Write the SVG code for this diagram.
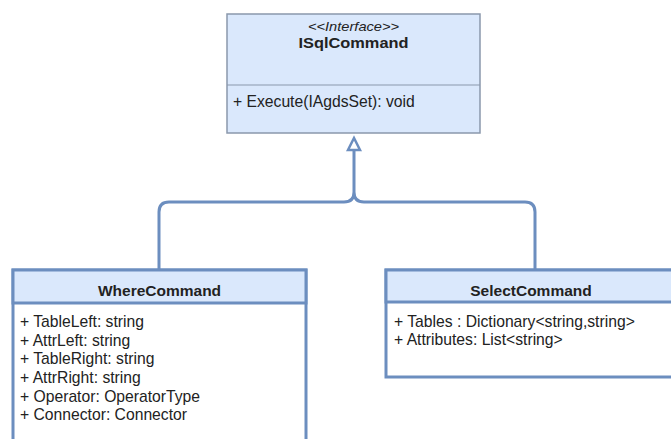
<svg xmlns="http://www.w3.org/2000/svg" width="671" height="439" viewBox="0 0 671 439">
<style>
text{font-family:"Liberation Sans",Arial,sans-serif;fill:#222;font-size:15.7px}
.t{font-weight:bold;font-size:15.5px;text-anchor:middle}
.it{font-weight:bold;font-size:14px;text-anchor:middle}
.st{font-style:italic;font-size:12px;text-anchor:middle}
.hdr{fill:#dae8fc;stroke:#6c8ebf;stroke-width:3}
.body{fill:#fff;stroke:#6c8ebf;stroke-width:3}
.conn{fill:none;stroke:#6c8ebf;stroke-width:3}
</style>
<rect width="671" height="439" fill="#fff"/>
<g id="ISqlCommand">
<rect x="227" y="14" width="253" height="119" fill="#dae8fc" stroke="#8a98ac" stroke-width="1.5"/>
<line x1="227" y1="85" x2="480" y2="85" stroke="#8a98ac" stroke-width="1"/>
<text class="st" transform="translate(353.5,31) scale(1.22,1)">&lt;&lt;Interface&gt;&gt;</text>
<text class="it" transform="translate(353.5,48) scale(1.17,1)">ISqlCommand</text>
<text x="233" y="107">+ Execute(IAgdsSet): void</text>
</g>
<g id="connectors">
<path class="conn" d="M159 270 V212 Q159 202 169 202 H344 Q354 202 354 192 V150 M354 192 Q354 202 364 202 H525 Q535 202 535 212 V270"/>
<polygon points="354,138 348,150 360,150" fill="#fff" stroke="#6c8ebf" stroke-width="2.5" stroke-linejoin="miter"/>
</g>
<g id="WhereCommand">
<rect class="body" x="13" y="270" width="293" height="180"/>
<rect class="hdr" x="13" y="270" width="293" height="33"/>
<text class="t" x="159.5" y="296">WhereCommand</text>
<text x="20" y="327">+ TableLeft: string</text>
<text x="20" y="346">+ AttrLeft: string</text>
<text x="20" y="364">+ TableRight: string</text>
<text x="20" y="383">+ AttrRight: string</text>
<text x="20" y="402">+ Operator: OperatorType</text>
<text x="20" y="420">+ Connector: Connector</text>
</g>
<g id="SelectCommand">
<rect class="body" x="386" y="270" width="300" height="107"/>
<rect class="hdr" x="386" y="270" width="300" height="32"/>
<text class="t" x="531" y="296">SelectCommand</text>
<text x="394" y="327">+ Tables : Dictionary&lt;string,string&gt;</text>
<text x="394" y="345">+ Attributes: List&lt;string&gt;</text>
</g>
</svg>
